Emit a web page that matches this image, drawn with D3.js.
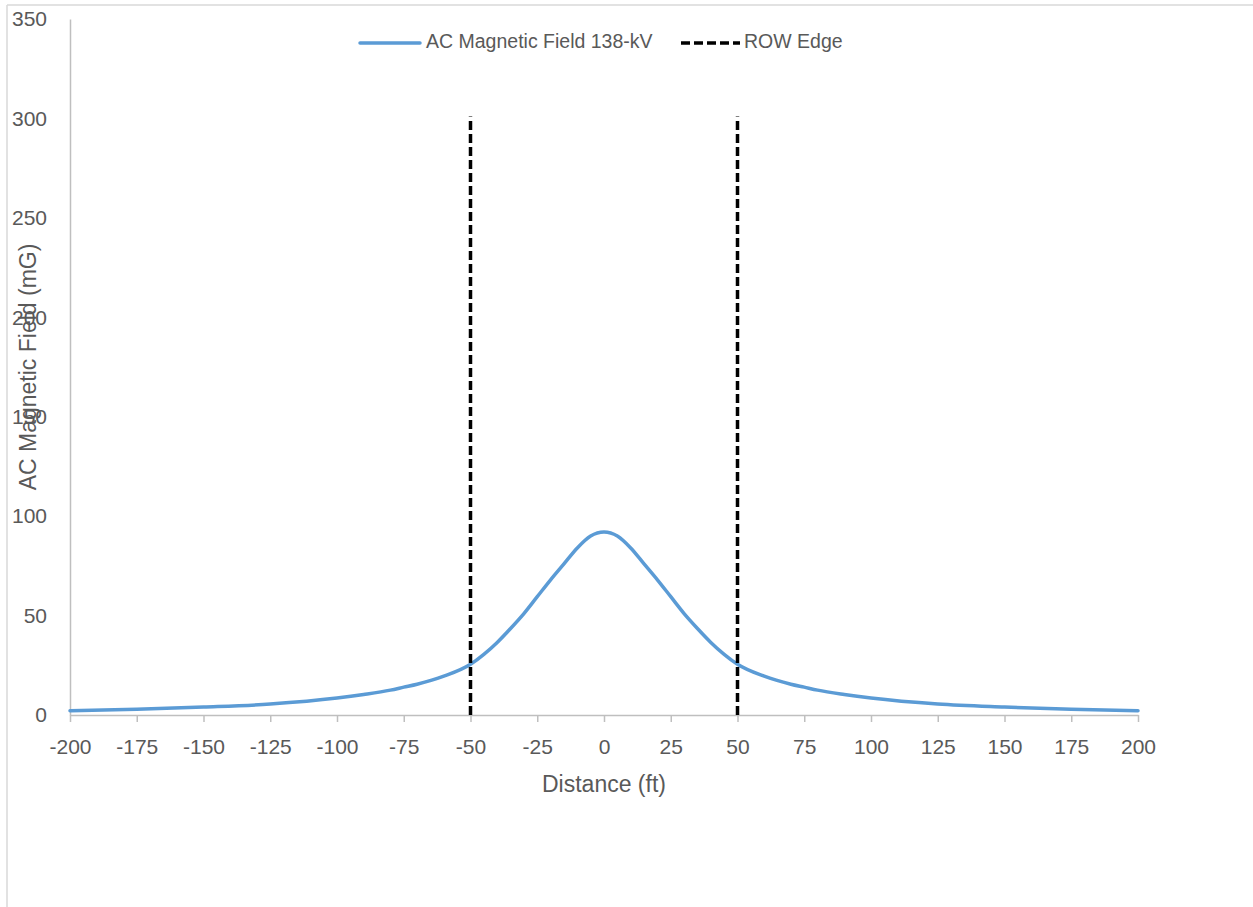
<!DOCTYPE html>
<html><head><meta charset="utf-8">
<script src="https://cdn.jsdelivr.net/npm/d3@7"></script>
<style>body{margin:0;background:#fff}svg{display:block}</style>
</head><body>
<svg id="c" width="1253" height="907"></svg>
<script>
// Data
const distances = [-200,-175,-150,-125,-100,-90,-80,-75,-70,-60,-50,-45,-40,-35,-30,-25,-20,-15,-10,-5,0,5,10,15,20,25,30,35,40,45,50,60,70,75,80,90,100,125,150,175,200];
const fieldValues = [2.1,2.9,4.0,5.5,8.5,10.3,12.5,14,15.5,19.5,25.5,30.5,36.5,43.5,51,59.5,68,76,84,90,92,90,84,76,68,59.5,51,43.5,36.5,30.5,25.5,19.5,15.5,14,12.5,10.3,8.5,5.5,4.0,2.9,2.1];
const rowEdges = [-50, 50];
const rowTop = 300;
const xTicks = [-200,-175,-150,-125,-100,-75,-50,-25,0,25,50,75,100,125,150,175,200];
const yTicks = [0,50,100,150,200,250,300,350];
const seriesNames = ["AC Magnetic Field 138-kV", "ROW Edge"];
const xTitle = "Distance (ft)";
const yTitle = "AC Magnetic Field (mG)";

const FONT = "'Liberation Sans', Arial, sans-serif";
const fmt = d => String(d);
const svg = d3.select("#c");
const x = d3.scaleLinear().domain([-200,200]).range([70,1138]);
const y = d3.scaleLinear().domain([0,350]).range([715,19]);

// outer border
svg.append("line").attr("x1",7).attr("x2",1253).attr("y1",5).attr("y2",5).attr("stroke","#d9d9d9").attr("stroke-width",1.5);
svg.append("line").attr("x1",7).attr("x2",7).attr("y1",5).attr("y2",907).attr("stroke","#d9d9d9").attr("stroke-width",1.5);

// y axis
const yAx = svg.append("g").attr("transform","translate(70,0)")
  .call(d3.axisLeft(y).tickValues(yTicks).tickSize(0).tickPadding(23).tickFormat(fmt));
yAx.select(".domain").attr("stroke","#bfbfbf").attr("stroke-width",1.5);
yAx.selectAll("text").attr("fill","#595959").style("font-family",FONT).style("font-size","21px");

// x axis
const xAx = svg.append("g").attr("transform","translate(0,715)")
  .call(d3.axisBottom(x).tickValues(xTicks).tickSizeInner(7).tickSizeOuter(0).tickPadding(17).tickFormat(fmt));
xAx.select(".domain").attr("stroke","#bfbfbf").attr("stroke-width",1.5);
xAx.selectAll(".tick line").attr("stroke","#bfbfbf").attr("stroke-width",1.5);
xAx.selectAll("text").attr("fill","#595959").style("font-family",FONT).style("font-size","21px");

// series line
const pts = distances.map((d,i)=>[d, fieldValues[i]]);
svg.append("path").datum(pts)
  .attr("fill","none").attr("stroke","#5b9bd5").attr("stroke-width",3.5).attr("stroke-linecap","round")
  .attr("d", d3.line().x(d=>x(d[0])).y(d=>y(d[1])).curve(d3.curveMonotoneX));

// ROW edges
rowEdges.forEach(e=>{
  svg.append("line").attr("x1",x(e)).attr("x2",x(e)).attr("y1",y(0)).attr("y2",y(rowTop)-2)
    .attr("stroke","#000").attr("stroke-width",3.5).attr("stroke-dasharray","9,4");
});

// titles
svg.append("text").attr("x",604).attr("y",786).attr("text-anchor","middle").attr("dominant-baseline","middle")
  .attr("fill","#595959").style("font-family",FONT).style("font-size","23px").text(xTitle);
svg.append("text").attr("transform","translate(30,367) rotate(-90)").attr("text-anchor","middle").attr("dominant-baseline","middle")
  .attr("fill","#595959").style("font-family",FONT).style("font-size","23px").text(yTitle);

// legend
const lg = svg.append("g");
lg.append("line").attr("x1",360).attr("x2",420).attr("y1",43).attr("y2",43).attr("stroke","#5b9bd5").attr("stroke-width",3.5).attr("stroke-linecap","round");
lg.append("text").attr("x",426).attr("y",43).attr("dominant-baseline","middle").attr("fill","#595959")
  .style("font-family",FONT).style("font-size","19.5px").text(seriesNames[0]);
lg.append("line").attr("x1",681).attr("x2",740).attr("y1",43).attr("y2",43).attr("stroke","#000").attr("stroke-width",3.5).attr("stroke-dasharray","9,4");
lg.append("text").attr("x",744).attr("y",43).attr("dominant-baseline","middle").attr("fill","#595959")
  .style("font-family",FONT).style("font-size","19.5px").text(seriesNames[1]);
</script>
</body></html>
